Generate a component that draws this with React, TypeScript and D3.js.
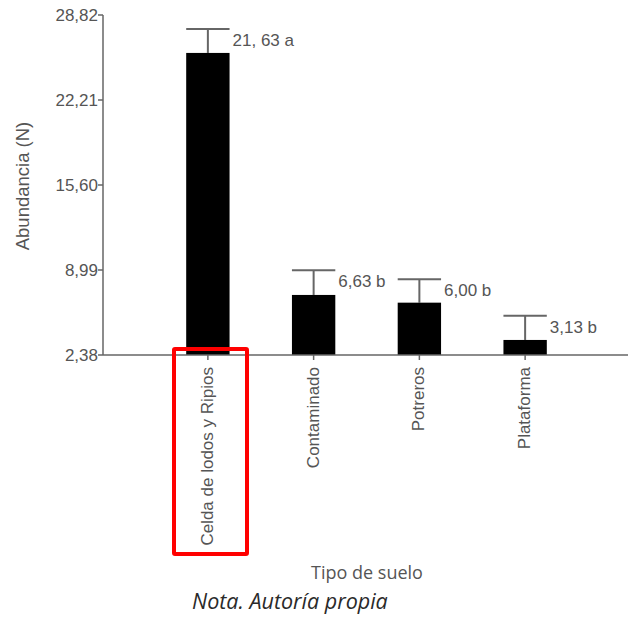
import React from 'react';
import * as d3 from 'd3';

// data
const categories = ['Celda de lodos y Ripios', 'Contaminado', 'Potreros', 'Plataforma'];
const means = [25.87, 7.05, 6.45, 3.55];
const errTops = [27.73, 8.98, 8.27, 5.44];
const barLabels = ['21, 63 a', '6,63 b', '6,00 b', '3,13 b'];
const yTicks = [2.38, 8.99, 15.6, 22.21, 28.82];

const W = 628;
const H = 621;
const axisColor = '#666';
const textColor = '#555';
const font = '"Liberation Sans", Arial, sans-serif';

const App = () => {
  const x0 = 103;
  const y = d3.scaleLinear().domain([2.38, 28.82]).range([355, 15]);
  const x = d3
    .scaleBand()
    .domain(categories)
    .range([155, 578])
    .paddingInner(0.59)
    .paddingOuter(0.295);
  const bw = x.bandwidth();
  const fmt = (v) => v.toFixed(2).replace('.', ',');

  return (
    <svg
      width={W}
      height={H}
      style={{ position: 'absolute', left: 0, top: 0, background: '#fff' }}
    >
      {/* y axis */}
      <line x1={x0} x2={x0} y1={y(28.82)} y2={y(2.38)} stroke={axisColor} strokeWidth={1.5} />
      {yTicks.map((t) => (
        <g key={t} transform={`translate(${x0},${y(t)})`}>
          <line x1={-5} x2={0} stroke={axisColor} strokeWidth={1.5} />
          <text
            x={-5}
            dy="0.35em"
            textAnchor="end"
            fontFamily={font}
            fontSize={17}
            fill={textColor}
          >
            {fmt(t)}
          </text>
        </g>
      ))}
      <text
        transform={`translate(29,186) rotate(-90)`}
        textAnchor="middle"
        fontFamily={font}
        fontSize={18.5}
        fill={textColor}
      >
        Abundancia (N)
      </text>

      {/* bars */}
      {categories.map((c, i) => {
        const bx = x(c);
        const cx = bx + bw / 2;
        return (
          <g key={c}>
            <line x1={cx} x2={cx} y1={y(means[i])} y2={y(errTops[i])} stroke={axisColor} strokeWidth={2} />
            <line x1={bx} x2={bx + bw} y1={y(errTops[i])} y2={y(errTops[i])} stroke={axisColor} strokeWidth={2} />
            <rect x={bx} y={y(means[i])} width={bw} height={y(2.38) - y(means[i])} fill="#000" />
            <text
              x={bx + bw + 3}
              y={y(errTops[i]) + 17}
              fontFamily={font}
              fontSize={17}
              fill={textColor}
            >
              {barLabels[i]}
            </text>
            <line x1={cx} x2={cx} y1={y(2.38)} y2={y(2.38) + 5} stroke={axisColor} strokeWidth={1.5} />
            <text
              transform={`translate(${cx + 5},${y(2.38) + 12}) rotate(-90)`}
              textAnchor="end"
              fontFamily={font}
              fontSize={17}
              fill={textColor}
            >
              {c}
            </text>
          </g>
        );
      })}

      {/* x axis */}
      <line x1={x0} x2={W} y1={y(2.38)} y2={y(2.38)} stroke={axisColor} strokeWidth={1.5} />

      {/* highlight box */}
      <rect x={174} y={349} width={73} height={205} fill="none" stroke="#f00" strokeWidth={4} rx={1} />

      <text x={367} y={579} textAnchor="middle" fontFamily='"Open Sans", sans-serif' fontSize={18} fill={textColor}>
        Tipo de suelo
      </text>
      <text
        x={192}
        y={609}
        fontFamily='"Open Sans", sans-serif'
        fontStyle="italic"
        fontSize={21.5}
        fill="#2a2a2a"
      >
        Nota. Autoría propia
      </text>
    </svg>
  );
};

export default App;
